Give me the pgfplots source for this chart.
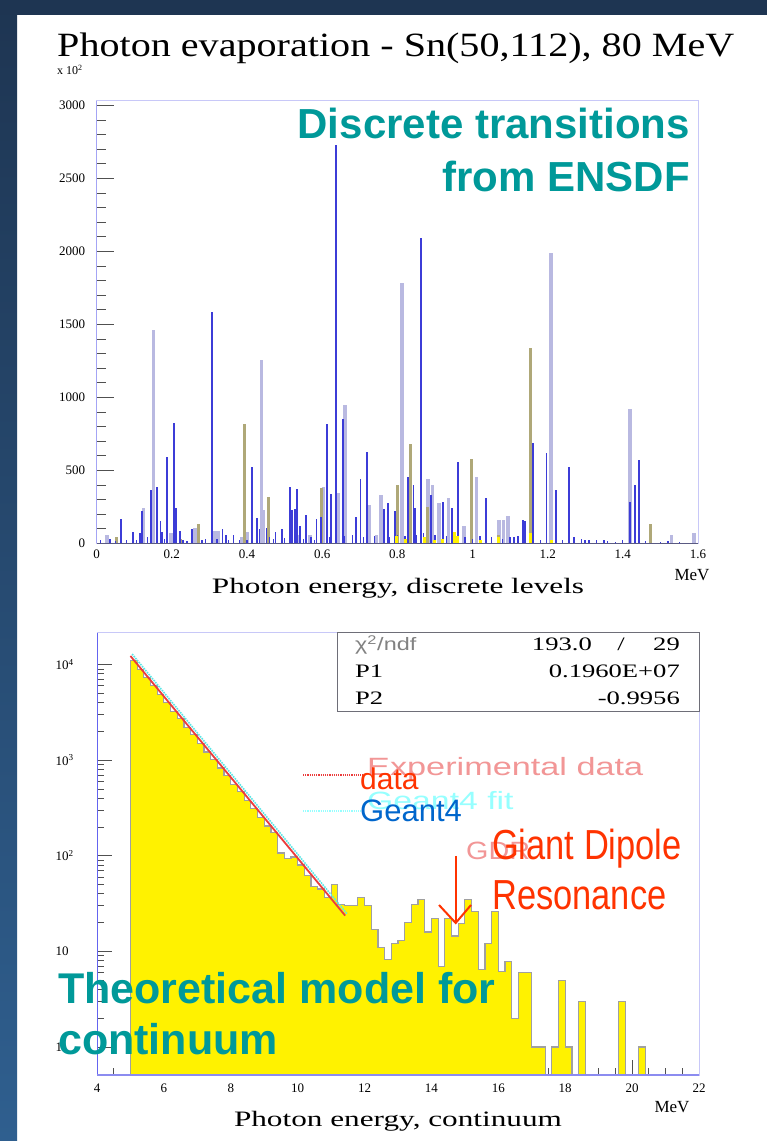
\documentclass[border=0pt]{standalone}
\usepackage{pgfplots}
\pgfplotsset{compat=1.18}
\usepackage{graphicx}
\usepackage{fontspec}
\setmainfont{Liberation Serif}
\newfontfamily\arial{Liberation Sans}
\definecolor{navy}{RGB}{30,53,82}
\definecolor{sideblue}{RGB}{47,95,143}
\definecolor{teal2}{RGB}{0,153,153}
\definecolor{ann}{RGB}{255,51,0}
\definecolor{g4blue}{RGB}{0,102,204}
\definecolor{lpink}{RGB}{242,150,150}
\definecolor{lcyan}{RGB}{150,255,255}
\definecolor{lav}{RGB}{185,185,225}
\definecolor{olive2}{RGB}{175,168,120}
\definecolor{bspike}{RGB}{60,60,215}
\definecolor{axlav}{RGB}{200,200,248}
\definecolor{axblue}{RGB}{100,100,240}
\definecolor{axdark}{RGB}{90,90,130}
\definecolor{axmid}{RGB}{140,140,240}
\definecolor{boxgray}{RGB}{110,110,120}
\definecolor{tickgray}{RGB}{80,80,80}
\definecolor{histgray}{RGB}{160,160,160}
\definecolor{fitred}{RGB}{235,60,60}
\definecolor{fitcyan}{RGB}{90,230,230}
\definecolor{statgray}{RGB}{130,130,130}
\newcommand{\sx}[2]{\scalebox{#1}[1]{#2}}
\begin{document}
\begin{tikzpicture}[x=1pt,y=1pt]
\fill[white] (0pt,0pt) rectangle (767pt,1141pt);
\shade[top color=navy,bottom color=sideblue] (0pt,0pt) rectangle (17pt,1141pt);
\fill[navy] (0pt,1126pt) rectangle (767pt,1141pt);

% ---------------- top panel ----------------
\begin{axis}[
  at={(96.7pt,597.7pt)}, anchor=south west,
  width=601.3pt, height=442.3pt, scale only axis,
  xmin=0, xmax=1.6, ymin=0, ymax=3030,
  axis line style={draw=axlav, line width=1pt},
  tick pos=left, tick align=inside,
  xtick={0,0.2,0.4,0.6,0.8,1,1.2,1.4,1.6},
  xticklabels={0,0.2,0.4,0.6,0.8,1,1.2,1.4,1.6},
  xtick style={draw=none},
  ytick={0,500,1000,1500,2000,2500,3000},
  yticklabels={0,500,1000,1500,2000,2500,3000},
  minor y tick num=4,
  ytick style={draw=tickgray, line width=0.8pt},
  major tick length=17pt, minor tick length=9pt,
  ticklabel style={font=\fontsize{13}{13}\selectfont},
  yticklabel style={xshift=-8pt},
  xticklabel style={yshift=-3pt},
]
\addplot[ycomb, lav, line width=3.6pt, mark=none] coordinates {
(0.027,57) (0.124,245) (0.151,1461) (0.198,70) (0.261,105) (0.313,85) (0.322,85)
(0.386,40) (0.401,75) (0.439,1256) (0.444,225) (0.538,60) (0.567,60) (0.603,388)
(0.643,347) (0.661,947) (0.726,260) (0.745,60) (0.757,329) (0.812,1781) (0.881,440)
(0.893,400) (0.911,277) (0.936,310) (0.977,120) (1.011,457) (1.071,160) (1.082,160)
(1.095,187) (1.209,1991) (1.419,918) (1.53,60) (1.59,70)};
\addplot[ycomb, olive2, line width=3pt, mark=none] coordinates {
(0.053,40) (0.224,30) (0.270,130) (0.393,817) (0.457,316) (0.599,380) (0.801,400)
(0.836,678) (0.880,250) (0.998,575) (1.068,60) (1.155,1336) (1.474,130)};
\addplot[ycomb, bspike, line width=1.8pt, mark=none] coordinates {
(0.064,164) (0.096,80) (0.115,70) (0.121,223) (0.144,365) (0.160,384) (0.170,153)
(0.174,75) (0.188,589) (0.205,822) (0.211,245) (0.222,85) (0.253,100) (0.306,1587)
(0.335,95) (0.345,55) (0.364,55) (0.414,521) (0.426,175) (0.433,95) (0.452,108)
(0.476,75) (0.492,95) (0.514,388) (0.520,230) (0.528,235) (0.533,370) (0.541,120)
(0.556,193) (0.585,166) (0.596,178) (0.612,817) (0.623,336) (0.636,2728) (0.655,849)
(0.690,178) (0.702,440) (0.720,623) (0.764,235) (0.776,277) (0.794,220) (0.828,457)
(0.843,400) (0.848,240) (0.862,2089) (0.890,330) (0.922,280) (0.946,240) (0.961,250)
(0.962,560) (1.036,310) (1.110,40) (1.120,50) (1.134,160) (1.140,150) (1.162,689)
(1.197,621) (1.222,365) (1.257,525) (1.300,25) (1.350,20) (1.419,280) (1.432,400)
(1.444,570)};
\addplot[ycomb, bspike, line width=1.3pt, mark=none] coordinates {
(0.010,20) (0.035,30) (0.050,15) (0.080,25) (0.105,20) (0.135,40) (0.180,30)
(0.230,25) (0.240,15) (0.280,20) (0.290,30) (0.320,30) (0.350,20) (0.380,25)
(0.400,20) (0.460,40) (0.470,30) (0.500,35) (0.550,30) (0.570,40) (0.580,25)
(0.620,40) (0.660,50) (0.680,60) (0.710,40) (0.740,50) (0.780,40) (0.800,60)
(0.820,50) (0.850,60) (0.870,70) (0.900,60) (0.930,50) (0.950,40) (0.980,40)
(1.000,30) (1.020,50) (1.050,40) (1.080,30) (1.100,40) (1.120,30) (1.180,25)
(1.240,20) (1.270,40) (1.290,30) (1.310,20) (1.330,25) (1.360,15) (1.380,10)
(1.400,20) (1.460,15) (1.500,10) (1.520,15) (1.550,10)};
\addplot[ycomb, yellow, line width=3pt, mark=none] coordinates {
(0.798,50) (0.823,30) (0.873,40) (0.900,25) (0.920,30) (0.953,80) (0.960,50)
(1.020,20) (1.068,40) (1.153,70) (1.210,20)};
\draw[axblue, line width=1.2pt] (rel axis cs:0,0) -- (rel axis cs:0,1);
\draw[axdark, line width=1pt] (rel axis cs:0,0) -- (rel axis cs:1,0);
\end{axis}

% ---------------- bottom panel ----------------
\begin{axis}[
  at={(97pt,66pt)}, anchor=south west,
  width=602pt, height=442pt, scale only axis,
  xmin=4, xmax=22, ymode=log, ymin=0.51, ymax=21400,
  log origin=infty,
  axis line style={draw=axlav, line width=1pt},
  tick pos=left, tick align=inside,
  xtick={4,6,8,10,12,14,16,18,20,22},
  xticklabels={4,6,8,10,12,14,16,18,20,22},
  minor x tick num=3,
  ytick={1,10,100,1000,10000},
  yticklabels={1,10,10\textsuperscript{2},10\textsuperscript{3},10\textsuperscript{4}},
  tick style={draw=tickgray, line width=0.8pt},
  major tick length=15pt, minor tick length=7pt,
  ticklabel style={font=\fontsize{13}{13}\selectfont},
  yticklabel style={anchor=west, xshift=-45pt},
  xticklabel style={yshift=-5pt},
]
\addplot[const plot, fill=yellow, draw=histgray, line width=1.2pt] coordinates {
(5.0,0.1) (5.0,11000) (5.2,8900) (5.4,7300) (5.6,6000) (5.8,4900) (6.0,4050)
(6.2,3250) (6.4,2750) (6.6,2200) (6.8,1850) (7.0,1500) (7.2,1220) (7.4,1020)
(7.6,830) (7.8,690) (8.0,560) (8.2,470) (8.4,380) (8.6,315) (8.8,250) (9.0,205)
(9.2,175) (9.4,107) (9.6,93) (9.8,97) (10.0,80) (10.2,62) (10.4,48) (10.6,45)
(10.8,37) (11.0,50) (11.2,31) (11.4,30) (11.6,30) (11.8,37) (12.0,30) (12.2,17)
(12.4,11) (12.6,8.2) (12.8,12) (13.0,13) (13.2,20) (13.4,31) (13.6,35) (13.8,16)
(14.0,22) (14.2,7) (14.4,22) (14.6,14.5) (14.8,19.5) (15.0,35) (15.2,26) (15.4,6.5)
(15.6,12) (15.8,26) (16.0,6.2) (16.2,7.9) (16.4,2) (16.6,6) (16.8,6) (17.0,1)
(17.2,1) (17.4,0.1) (17.6,1) (17.8,5) (18.0,1) (18.2,0.1) (18.4,3) (18.6,0.1)
(19.6,3) (19.8,0.1) (20.2,1) (20.4,0.1)};
\addplot[fitcyan, line width=1.6pt, densely dotted] coordinates {(5.05,12900) (11.47,24.8)};
\addplot[fitred, line width=1.8pt] coordinates {(5.0,12300) (11.42,23.7)};
\draw[axblue, line width=1.2pt] (rel axis cs:0,0) -- (rel axis cs:0,1);
\draw[axmid, line width=1.2pt] (rel axis cs:0,0) -- (rel axis cs:1,0);
\end{axis}

% ---------------- texts ----------------
\node[anchor=base west, inner sep=0] at (57pt,1084pt) {\fontsize{34}{34}\selectfont\sx{1.18}{Photon evaporation - Sn(50,112), 80 MeV}};
\node[anchor=base west, inner sep=0] at (57pt,1066pt) {\fontsize{12}{12}\selectfont x 10\textsuperscript{2}};
\node[anchor=base, inner sep=0] at (398pt,547pt) {\fontsize{22}{22}\selectfont\sx{1.42}{Photon energy, discrete levels}};
\node[anchor=base, inner sep=0] at (692pt,560pt) {\fontsize{17}{17}\selectfont MeV};
\node[anchor=base, inner sep=0] at (398pt,14pt) {\fontsize{22}{22}\selectfont\sx{1.42}{Photon energy, continuum}};
\node[anchor=base, inner sep=0] at (672pt,28pt) {\fontsize{17}{17}\selectfont MeV};

\node[anchor=base east, inner sep=0, text=teal2] at (690pt,1002.7pt) {\arial\bfseries\fontsize{42}{42}\selectfont Discrete transitions};
\node[anchor=base east, inner sep=0, text=teal2] at (690pt,949.3pt) {\arial\bfseries\fontsize{42}{42}\selectfont from ENSDF};

% stats box
\draw[boxgray, line width=1pt, fill=white] (337pt,429pt) rectangle (699pt,508pt);
\node[anchor=base west, inner sep=0, text=statgray] at (355pt,490pt) {\arial\fontsize{18}{18}\selectfont\sx{1.3}{χ\textsuperscript{2}/ndf}};
\node[anchor=base east, inner sep=0] at (592pt,490pt) {\fontsize{19}{19}\selectfont\sx{1.4}{193.0}};
\node[anchor=base, inner sep=0] at (621pt,490pt) {\fontsize{19}{19}\selectfont\sx{1.4}{/}};
\node[anchor=base east, inner sep=0] at (680pt,490pt) {\fontsize{19}{19}\selectfont\sx{1.4}{29}};
\node[anchor=base west, inner sep=0] at (355pt,463pt) {\fontsize{19}{19}\selectfont\sx{1.4}{P1}};
\node[anchor=base east, inner sep=0] at (680pt,463pt) {\fontsize{19}{19}\selectfont\sx{1.4}{0.1960E+07}};
\node[anchor=base west, inner sep=0] at (355pt,436pt) {\fontsize{19}{19}\selectfont\sx{1.4}{P2}};
\node[anchor=base east, inner sep=0] at (680pt,436pt) {\fontsize{19}{19}\selectfont\sx{1.4}{-0.9956}};

% legend-like labels
\draw[fitred, line width=1.2pt, densely dotted] (303pt,366pt) -- (363pt,366pt);
\draw[lcyan, line width=1.2pt, densely dotted] (303pt,330pt) -- (363pt,330pt);
\node[anchor=base west, inner sep=0, text=lpink] at (367pt,365pt) {\arial\fontsize{25}{25}\selectfont\sx{1.37}{Experimental data}};
\node[anchor=base west, inner sep=0, text=lcyan] at (367pt,331pt) {\arial\fontsize{25}{25}\selectfont\sx{1.35}{Geant4 fit}};
\node[anchor=base west, inner sep=0, text=lpink] at (466pt,281pt) {\arial\fontsize{25}{25}\selectfont\sx{1.15}{GDR}};
\node[anchor=base west, inner sep=0, text=ann] at (360pt,351pt) {\arial\fontsize{30}{30}\selectfont data};
\node[anchor=base west, inner sep=0, text=g4blue] at (360pt,319.3pt) {\arial\fontsize{31}{31}\selectfont Geant4};
\node[anchor=base west, inner sep=0, text=ann] at (492pt,281pt) {\arial\fontsize{42}{42}\selectfont\sx{0.82}{Giant Dipole}};
\node[anchor=base west, inner sep=0, text=ann] at (492pt,231pt) {\arial\fontsize{42}{42}\selectfont\sx{0.82}{Resonance}};
\draw[ann, line width=2pt] (455.7pt,285pt) -- (455.7pt,218pt);
\draw[ann, line width=2pt] (439pt,236pt) -- (455.7pt,218pt) -- (471pt,236pt);

\node[anchor=base west, inner sep=0, text=teal2] at (58pt,137.7pt) {\arial\bfseries\fontsize{43}{43}\selectfont Theoretical model for};
\node[anchor=base west, inner sep=0, text=teal2] at (58pt,86pt) {\arial\bfseries\fontsize{43}{43}\selectfont continuum};
\end{tikzpicture}
\end{document}
